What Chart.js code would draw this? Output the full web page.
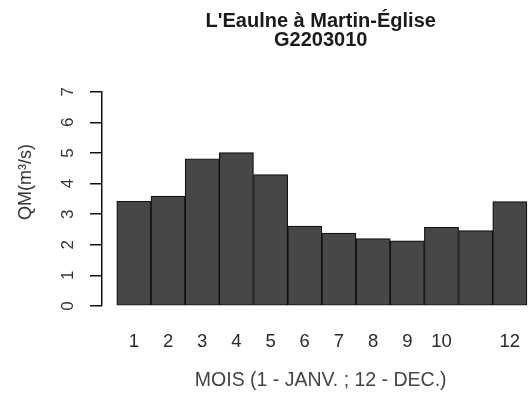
<!DOCTYPE html>
<html lang="fr">
<head>
  <meta charset="UTF-8">
  <title>L'Eaulne à Martin-Église - débits mensuels</title>
  <script src="https://cdn.jsdelivr.net/npm/chart.js"></script>
<style>
  html, body {
    margin: 0;
    padding: 0;
    background: #ffffff;
    overflow: hidden;
  }
  #wrap {
    width: 545px;
    height: 399px;
  }
</style>
</head>
<body>
  <div id="wrap">
    <canvas id="qmChart" width="545" height="399"></canvas>
  </div>
  <script>
    // Mean monthly flow (m3/s), January to December
    const months = [1, 2, 3, 4, 5, 6, 7, 8, 9, 10, 11, 12];
    const qmValues = [3.42, 3.59, 4.81, 5.01, 4.29, 2.61, 2.38, 2.20, 2.13, 2.57, 2.46, 3.41];
    // month numbers printed under the bars (11 is left out, as R drops it)
    const monthTicks = [1, 2, 3, 4, 5, 6, 7, 8, 9, 10, 12];
    const yTicks = [0, 1, 2, 3, 4, 5, 6, 7];

    const textFont = 'Liberation Sans, Arial, sans-serif';

    // rotated y axis title, drawn left of the axis
    const yTitlePlugin = {
      id: 'yTitle',
      afterDraw(chart) {
        const ctx = chart.ctx;
        ctx.save();
        ctx.translate(26, 182);
        ctx.rotate(-Math.PI / 2);
        ctx.fillStyle = '#333333';
        ctx.font = '18px ' + textFont;
        ctx.textAlign = 'center';
        ctx.textBaseline = 'middle';
        ctx.fillText('QM(m³/s)', 0, 0);
        ctx.restore();
      }
    };

    const ctx = document.getElementById('qmChart').getContext('2d');
    new Chart(ctx, {
      type: 'bar',
      data: {
        datasets: [{
          data: months.map((m, i) => ({ x: m, y: qmValues[i] })),
          backgroundColor: '#474747',
          borderColor: '#111111',
          borderWidth: 1.2,
          borderSkipped: false,
          barPercentage: 1,
          categoryPercentage: 1
        }]
      },
      options: {
        responsive: false,
        animation: false,
        layout: { padding: 0 },
        plugins: {
          legend: { display: false },
          tooltip: { enabled: false },
          title: {
            display: true,
            fullSize: false,
            text: ["L'Eaulne à Martin-Église", 'G2203010'],
            color: '#1a1a1a',
            font: { family: textFont, size: 20, weight: 'bold', lineHeight: '19px' },
            padding: { top: 11.5, bottom: 42.2 }
          }
        },
        scales: {
          x: {
            type: 'linear',
            offset: false,
            min: 0.068,
            max: 12.865,
            grid: { display: false, drawTicks: false },
            border: { display: false },
            afterBuildTicks: (scale) => {
              scale.ticks = monthTicks.map(v => ({ value: v }));
            },
            afterFit: (scale) => { scale.height = 93; },
            ticks: {
              autoSkip: false,
              maxRotation: 0,
              padding: 24.5,
              color: '#2a2a2a',
              font: { family: textFont, size: 18.5 },
              callback: (v) => String(v)
            },
            title: {
              display: true,
              text: 'MOIS (1 - JANV. ; 12 - DEC.)',
              color: '#444444',
              font: { family: textFont, size: 19.5 },
              padding: { top: 0, bottom: 6.3 }
            }
          },
          y: {
            min: 0,
            max: 7,
            afterBuildTicks: (scale) => {
              scale.ticks = yTicks.map(v => ({ value: v }));
            },
            afterFit: (scale) => { scale.width = 102; },
            grid: {
              drawOnChartArea: false,
              drawTicks: true,
              tickLength: 12,
              color: '#111111',
              lineWidth: 1.5
            },
            border: { display: true, color: '#111111', width: 1.5 },
            ticks: {
              autoSkip: false,
              minRotation: 90,
              maxRotation: 90,
              crossAlign: 'center',
              padding: 17.3,
              color: '#333333',
              font: { family: textFont, size: 17 }
            }
          }
        }
      },
      plugins: [yTitlePlugin]
    });
  </script>
</body>
</html>
